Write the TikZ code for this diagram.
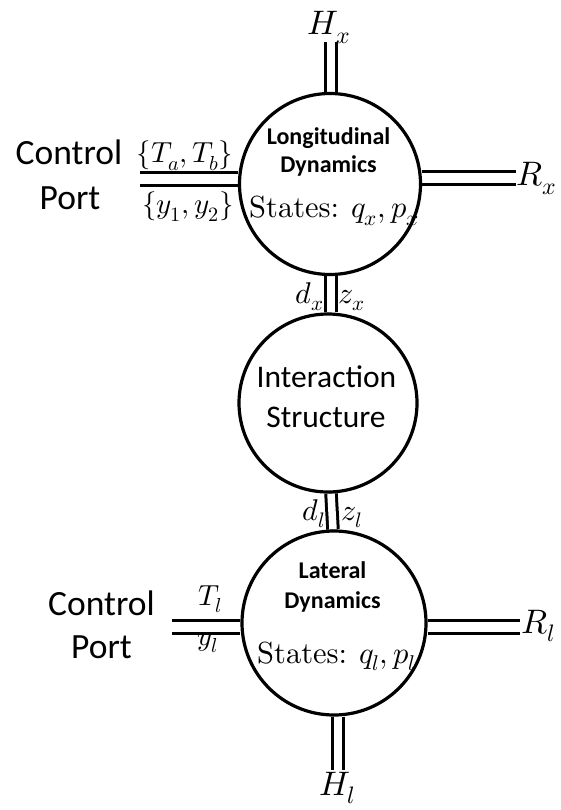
\documentclass[tikz,border=0pt]{standalone}
\usepackage{fontspec}
\usepackage{unicode-math}
\setmainfont{lmroman10-regular}[Extension=.otf]
\setmathfont{latinmodern-math.otf}
\newfontfamily\calibri{Carlito}
\usetikzlibrary{backgrounds}
\begin{document}
\begin{tikzpicture}[x=1pt,y=-1pt,
  port/.style={circle,draw,line width=3.2pt,fill=white,inner sep=0pt},
  vbond/.style={double,double distance=7.5pt,line width=3pt},
  hbond/.style={double,double distance=10pt,line width=3pt},
  bigm/.style={inner sep=0pt,font=\fontsize{34}{40}\selectfont},
  midm/.style={inner sep=0pt,font=\fontsize{30}{36}\selectfont},
  smallm/.style={inner sep=0pt,font=\fontsize{29}{34}\selectfont},
  state/.style={inner sep=0pt,font=\fontsize{30.5}{36}\selectfont},
  title/.style={inner sep=0pt,font=\calibri\bfseries\fontsize{24}{28}\selectfont},
  sans/.style={inner sep=0pt,font=\calibri\fontsize{35.5}{40}\selectfont},
  isans/.style={inner sep=0pt,font=\calibri\fontsize{31.5}{36}\selectfont}]
\useasboundingbox (0,0) rectangle (561,810);

% the three elements of the bond graph
\node[port,minimum size=181pt] (long) at (330,184) {};
\node[port,minimum size=178pt] (inter) at (328,403) {};
\node[port,minimum size=184pt] (lat) at (334,623) {};

% free ends of the bonds
\coordinate (hx) at (331,42);
\coordinate (cpx) at (140,179.5);
\coordinate (rx) at (516,178.5);
\coordinate (cpl) at (172,627);
\coordinate (rl) at (520,627);
\coordinate (hl) at (338,770);

\begin{pgfonlayer}{background}
  \draw[vbond] (hx) -- (hx |- long.north);
  \draw[hbond] (cpx) -- (cpx -| long.west);
  \draw[hbond] (rx) -- (rx -| long.east);
  \draw[vbond] (long.south -| hx) -- (inter.north -| hx);
  \draw[vbond] ([xshift=3pt]inter.south) -- ([xshift=-1pt]lat.north);
  \draw[hbond] (cpl) -- (cpl -| lat.west);
  \draw[hbond] (rl) -- (rl -| lat.east);
  \draw[vbond] (hl) -- (hl |- lat.south);
\end{pgfonlayer}

% longitudinal dynamics
\node[bigm,anchor=base] (hxl) at (329,35) {$H_x$};
\node[bigm,anchor=base west] (rxl) at (516,186) {$R_x$};
\node[smallm,anchor=base] (tab) at (185,163) {$\{T_a,T_b\}$};
\node[smallm,anchor=base] (yy) at (188,214) {$\{y_1,y_2\}$};
\node[sans,anchor=base] (cp1) at (69,165) {Control};
\node[sans,anchor=base] (pt1) at (70,210) {Port};
\node[title,anchor=base] (lt1) at (328.5,145) {Longitudinal};
\node[title,anchor=base] (lt2) at (328.5,173) {Dynamics};
\node[state,anchor=base west] (sx) at (249,218) {States:\hspace{0.4em}$q_x,p_x$};

% interaction
\node[midm,anchor=base east] (dx) at (324,303) {$d_x$};
\node[midm,anchor=base west] (zx) at (338,303) {$z_x$};
\node[isans,anchor=base] (it1) at (326.5,387) {Interaction};
\node[isans,anchor=base] (it2) at (326,427) {Structure};
\node[midm,anchor=base east] (dl) at (325,520) {$d_l$};
\node[midm,anchor=base west] (zl) at (341,520) {$z_l$};

% lateral dynamics
\node[sans,anchor=base] (cp2) at (101.5,615) {Control};
\node[sans,anchor=base] (pt2) at (101.5,658) {Port};
\node[smallm,anchor=base] (tl) at (210,605) {$T_l$};
\node[smallm,anchor=base] (yl) at (208,645) {$y_l$};
\node[title,anchor=base] (la1) at (332.5,578) {Lateral};
\node[title,anchor=base] (la2) at (332.5,608) {Dynamics};
\node[state,anchor=base west] (sl) at (257,663) {States:\hspace{0.4em}$q_l,p_l$};
\node[bigm,anchor=base west] (rll) at (521,633) {$R_l$};
\node[bigm,anchor=base] (hll) at (337,795) {$H_l$};
\end{tikzpicture}
\end{document}
